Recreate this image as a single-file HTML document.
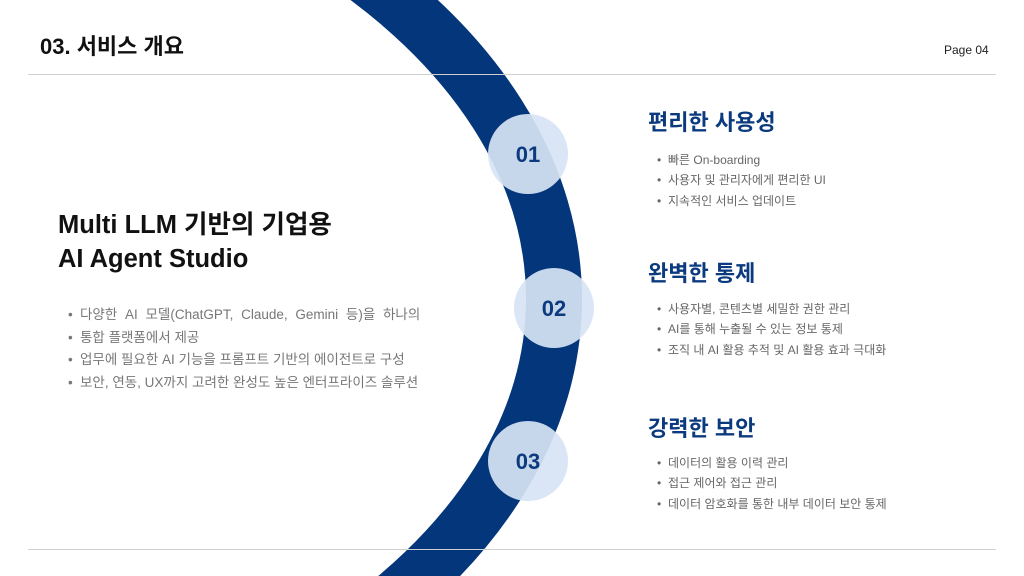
<!DOCTYPE html>
<html><head><meta charset="utf-8"><style>
body{margin:0;width:1024px;height:576px;overflow:hidden;background:#fff;position:relative;font-family:"Liberation Sans","Noto Sans CJK KR",sans-serif}
.a{position:absolute;white-space:nowrap}
.line{position:absolute;left:28px;width:968px;height:1px;background:#d0d0d0}
.b{position:absolute;font-size:12px;line-height:16px;color:#666;white-space:nowrap}
.b:before{content:"•";position:absolute;left:-11px;top:0;color:#666}
.h{position:absolute;font-size:22px;font-weight:bold;color:#0b3a7e;white-space:nowrap}
.lb{position:absolute;left:80px;font-size:13.5px;line-height:18px;color:#777;white-space:nowrap}
.lb:before{content:"•";position:absolute;left:-12px;top:0}
</style></head><body>
<svg class="a" style="left:0;top:0" width="1024" height="576">
<ellipse cx="-244" cy="299" rx="798" ry="500" fill="none" stroke="#03367a" stroke-width="56"/>
<circle cx="528" cy="154" r="40" fill="rgba(215,228,244,0.92)"/>
<circle cx="554" cy="308" r="40" fill="rgba(215,228,244,0.92)"/>
<circle cx="528" cy="461" r="40" fill="rgba(215,228,244,0.92)"/>
<text x="528" y="162" text-anchor="middle" font-family="Liberation Sans" font-weight="bold" font-size="22" fill="#0b3a7e">01</text>
<text x="554" y="316" text-anchor="middle" font-family="Liberation Sans" font-weight="bold" font-size="22" fill="#0b3a7e">02</text>
<text x="528" y="469" text-anchor="middle" font-family="Liberation Sans" font-weight="bold" font-size="22" fill="#0b3a7e">03</text>
</svg>
<div class="line" style="top:74px"></div>
<div class="line" style="top:549px"></div>
<div class="a" style="left:40px;top:29px;font-size:22px;font-weight:bold;color:#111">03. 서비스 개요</div>
<div class="a" style="left:944px;top:43px;font-size:12px;color:#222">Page 04</div>
<div class="a" style="left:58px;top:208px;font-size:25.5px;font-weight:bold;color:#111;line-height:34px">Multi LLM 기반의 기업용<br>AI Agent Studio</div>
<div class="lb" style="top:306px;word-spacing:4px">다양한 AI 모델(ChatGPT, Claude, Gemini 등)을 하나의</div>
<div class="lb" style="top:329px">통합 플랫폼에서 제공</div>
<div class="lb" style="top:351px">업무에 필요한 AI 기능을 프롬프트 기반의 에이전트로 구성</div>
<div class="lb" style="top:374px">보안, 연동, UX까지 고려한 완성도 높은 엔터프라이즈 솔루션</div>
<div class="h" style="left:648px;top:105px">편리한 사용성</div>
<div class="b" style="left:668px;top:152px">빠른 On-boarding</div>
<div class="b" style="left:668px;top:172px">사용자 및 관리자에게 편리한 UI</div>
<div class="b" style="left:668px;top:193px">지속적인 서비스 업데이트</div>
<div class="h" style="left:648px;top:256px">완벽한 통제</div>
<div class="b" style="left:668px;top:301px">사용자별, 콘텐츠별 세밀한 권한 관리</div>
<div class="b" style="left:668px;top:321px">AI를 통해 누출될 수 있는 정보 통제</div>
<div class="b" style="left:668px;top:342px">조직 내 AI 활용 추적 및 AI 활용 효과 극대화</div>
<div class="h" style="left:648px;top:411px">강력한 보안</div>
<div class="b" style="left:668px;top:455px">데이터의 활용 이력 관리</div>
<div class="b" style="left:668px;top:475px">접근 제어와 접근 관리</div>
<div class="b" style="left:668px;top:496px">데이터 암호화를 통한 내부 데이터 보안 통제</div>
</body></html>
